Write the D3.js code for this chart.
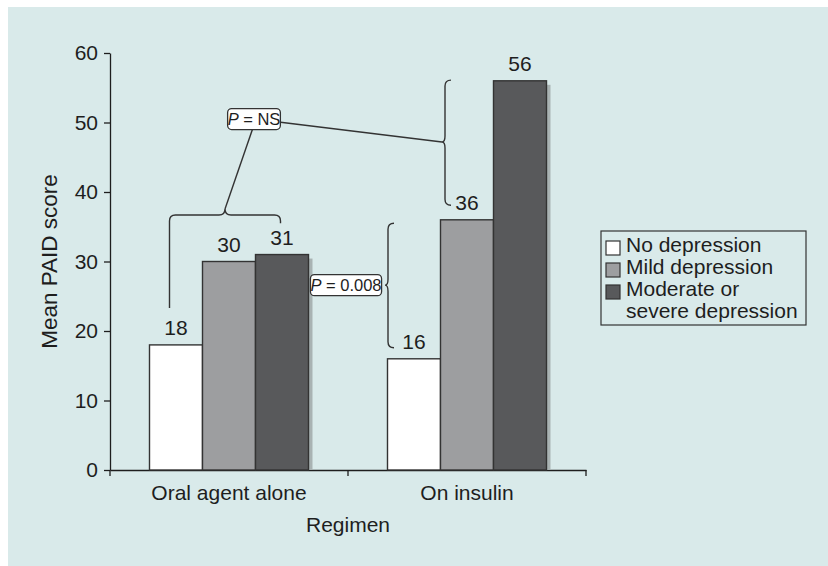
<!DOCTYPE html>
<html>
<head>
<meta charset="utf-8">
<script src="https://cdn.jsdelivr.net/npm/d3@7"></script>
<style>
  body { margin: 0; background: #fff; }
  svg { display: block; font-family: "Liberation Sans", Arial, sans-serif; }
</style>
</head>
<body>
<div id="chart"></div>
<script>
// ==========================================
// 1. DATA
// ==========================================

const regimens = ["Oral agent alone", "On insulin"];
const groups = ["No depression", "Mild depression", "Moderate or severe depression"];
const oralScores = [18, 30, 31];
const insulinScores = [16, 36, 56];
const yTicks = [0, 10, 20, 30, 40, 50, 60];
const legendLines = [["No depression"], ["Mild depression"], ["Moderate or", "severe depression"]];
const pValues = ["NS", "0.008"];

const colors = ["#ffffff", "#9d9ea0", "#58595b"];

// ==========================================
// 2. SVG + SCALES
// ==========================================

const width = 828, height = 566;
const ink = "#1e1e1e";
const svg = d3.select("#chart").append("svg")
    .attr("width", width).attr("height", height);

// light panel background
svg.append("rect").attr("x", 8).attr("y", 7)
    .attr("width", width - 8).attr("height", height - 7)
    .attr("fill", "#d9eaea");

const x = d3.scaleBand().domain(regimens).range([110, 586]);
const xSub = d3.scaleBand().domain(groups).range([39.5, 198.5]);
const y = d3.scaleLinear().domain([0, 60]).range([470, 53]);

const rows = regimens.map((r, i) => ({
    regimen: r,
    values: (i === 0 ? oralScores : insulinScores).map((v, j) => ({ group: groups[j], value: v, k: j }))
}));

// ==========================================
// 3. AXES
// ==========================================

const yAxis = svg.append("g").attr("transform", "translate(110,0)")
    .call(d3.axisLeft(y).tickValues(yTicks).tickSizeInner(6).tickSizeOuter(0).tickPadding(6));
yAxis.select(".domain").attr("stroke", ink).attr("stroke-width", 1.3);
yAxis.selectAll(".tick line").attr("stroke", ink).attr("stroke-width", 1.3);
yAxis.selectAll("text").attr("font-size", 21).attr("fill", ink).attr("font-family", null);

const xAxis = svg.append("g").attr("transform", `translate(0,${y(0)})`)
    .call(d3.axisBottom(x).tickSizeInner(0).tickSizeOuter(0).tickPadding(15));
xAxis.select(".domain").attr("stroke", ink).attr("stroke-width", 1.3);
xAxis.selectAll("text").attr("font-size", 21).attr("fill", ink).attr("font-family", null);

// ticks at the category boundaries
svg.append("g").selectAll("line")
    .data(regimens.map(r => x(r)).concat([x.range()[1]]))
    .join("line")
    .attr("x1", d => d).attr("x2", d => d)
    .attr("y1", y(0)).attr("y2", y(0) + 6)
    .attr("stroke", ink).attr("stroke-width", 1.3);

svg.append("text")
    .attr("transform", `translate(57,${(y(0) + y(60)) / 2}) rotate(-90)`)
    .attr("text-anchor", "middle").attr("font-size", 22.5).attr("fill", ink)
    .text("Mean PAID score");

svg.append("text")
    .attr("x", (x.range()[0] + x.range()[1]) / 2).attr("y", 532)
    .attr("text-anchor", "middle").attr("font-size", 21).attr("fill", ink)
    .text("Regimen");

// ==========================================
// 4. BARS
// ==========================================

const gRow = svg.append("g").selectAll("g").data(rows).join("g")
    .attr("transform", d => `translate(${x(d.regimen)},0)`);

// drop shadow behind the bars
gRow.selectAll("rect.shadow").data(d => d.values).join("rect")
    .attr("class", "shadow")
    .attr("x", d => xSub(d.group) + 4).attr("y", d => y(d.value) + 4)
    .attr("width", xSub.bandwidth()).attr("height", d => y(0) - y(d.value) - 4)
    .attr("fill", "#a9b3b3");

gRow.selectAll("rect.bar").data(d => d.values).join("rect")
    .attr("class", "bar")
    .attr("x", d => xSub(d.group)).attr("y", d => y(d.value))
    .attr("width", xSub.bandwidth()).attr("height", d => y(0) - y(d.value))
    .attr("fill", d => colors[d.k]).attr("stroke", "#333").attr("stroke-width", 1.4);

gRow.selectAll("text.val").data(d => d.values).join("text")
    .attr("class", "val")
    .attr("x", d => xSub(d.group) + xSub.bandwidth() / 2).attr("y", d => y(d.value) - 10)
    .attr("text-anchor", "middle").attr("font-size", 21).attr("fill", ink)
    .text(d => d.value);

// ==========================================
// 5. BRACES + P VALUES
// ==========================================

function braceV(bx, y0, y1, ym, tip, r) {
    return `M${bx + r},${y0} Q${bx},${y0} ${bx},${y0 + r} L${bx},${ym - r} Q${bx},${ym} ${bx - tip},${ym}` +
        ` Q${bx},${ym} ${bx},${ym + r} L${bx},${y1 - r} Q${bx},${y1} ${bx + r},${y1}`;
}

function braceH(x0, x1, by, yl, yr, tip, r) {
    const xm = (x0 + x1) / 2;
    return `M${x0},${yl} L${x0},${by + r} Q${x0},${by} ${x0 + r},${by} L${xm - r},${by} Q${xm},${by} ${xm},${by - tip}` +
        ` Q${xm},${by} ${xm + r},${by} L${x1 - r},${by} Q${x1},${by} ${x1},${by + r} L${x1},${yr}`;
}

const ann = svg.append("g").attr("fill", "none").attr("stroke", "#333").attr("stroke-width", 1.4);

const xOral = x(regimens[0]), xIns = x(regimens[1]);

// brace over oral agent group
const hx0 = xOral + xSub(groups[0]) + 20, hx1 = xOral + xSub(groups[2]) + 25;
const hTip = [(hx0 + hx1) / 2, y(36.7) - 6];
ann.append("path").attr("d", braceH(hx0, hx1, y(36.7), y(23.3), y(35.5), 6, 6));

// brace beside insulin moderate/severe bar
const v1x = xIns + xSub(groups[1]) + 4.5;
const v1Tip = [v1x - 3, y(47.2)];
ann.append("path").attr("d", braceV(v1x, y(56.1), y(38.1), y(47.2), 3, 6));

// brace across insulin group (16 -> 36)
const v2x = xIns + xSub(groups[0]) + 0.5;
const v2Tip = [v2x - 3, y(26.6)];
ann.append("path").attr("d", braceV(v2x, y(35.5), y(17.6), y(26.6), 3, 6));

function pBox(cx, cy, label) {
    const g = svg.append("g");
    const t = g.append("text").attr("x", cx).attr("y", cy).attr("dy", "0.36em")
        .attr("text-anchor", "middle").attr("font-size", 16.5).attr("fill", ink);
    t.append("tspan").attr("font-style", "italic").text("P");
    t.append("tspan").text(" = " + label);
    const b = t.node().getBBox();
    g.insert("rect", "text")
        .attr("x", b.x).attr("y", cy - 10.5)
        .attr("width", b.width).attr("height", 21).attr("rx", 4)
        .attr("fill", "#fff").attr("stroke", "#333").attr("stroke-width", 1.3);
}

const nsCenter = [254, y(50.5)];
// connector lines drawn first, boxes on top
ann.append("line").attr("x1", nsCenter[0] + 2).attr("y1", nsCenter[1])
    .attr("x2", hTip[0]).attr("y2", hTip[1]);
ann.append("line").attr("x1", nsCenter[0]).attr("y1", nsCenter[1])
    .attr("x2", v1Tip[0]).attr("y2", v1Tip[1]);

pBox(nsCenter[0], nsCenter[1], pValues[0]);
pBox(346, v2Tip[1], pValues[1]);

// ==========================================
// 6. LEGEND
// ==========================================

const legend = svg.append("g").attr("transform", "translate(601,231)");
legend.append("rect").attr("width", 205).attr("height", 94)
    .attr("fill", "none").attr("stroke", "#333").attr("stroke-width", 1.2);

let line = 0;
legendLines.forEach((lines, i) => {
    const base = 21 + line * 22;
    legend.append("rect").attr("x", 5).attr("y", base - 11).attr("width", 14).attr("height", 14)
        .attr("fill", colors[i]).attr("stroke", "#333").attr("stroke-width", 1.2);
    lines.forEach((txt, j) => {
        legend.append("text").attr("x", 25).attr("y", base + j * 22)
            .attr("font-size", 21).attr("fill", ink).text(txt);
    });
    line += lines.length;
});
</script>
</body>
</html>
